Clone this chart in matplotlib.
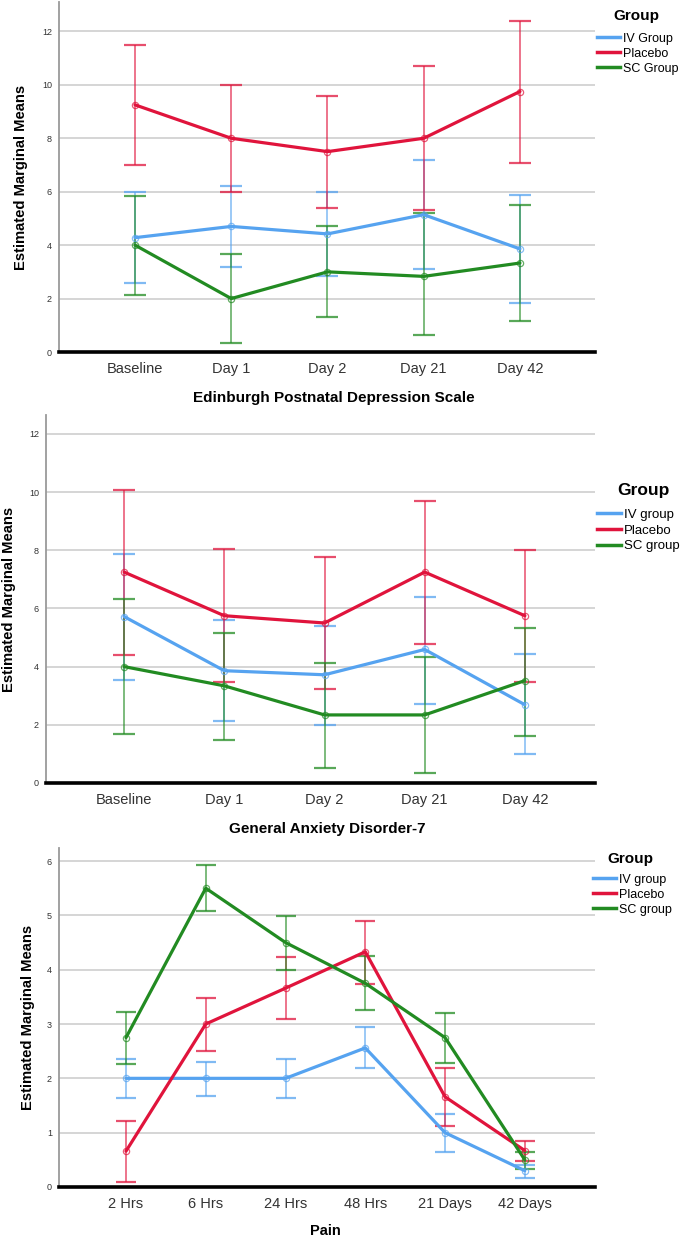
import matplotlib
matplotlib.use('Agg')
import matplotlib.pyplot as plt
from matplotlib.lines import Line2D

plt.rcParams['font.family'] = ['Liberation Sans', 'DejaVu Sans']

W, H = 690, 1240

# time points
days = ['Baseline', 'Day 1', 'Day 2', 'Day 21', 'Day 42']
hours = ['2 Hrs', '6 Hrs', '24 Hrs', '48 Hrs', '21 Days', '42 Days']

# panel 1 (top, untitled scale)
p1_iv = [4.28, 4.70, 4.42, 5.14, 3.86]
p1_iv_lo = [2.58, 3.20, 2.85, 3.10, 1.85]
p1_iv_hi = [5.97, 6.20, 6.00, 7.17, 5.86]
p1_pl = [9.25, 8.00, 7.50, 8.00, 9.75]
p1_pl_lo = [7.00, 6.00, 5.40, 5.30, 7.08]
p1_pl_hi = [11.50, 10.00, 9.60, 10.70, 12.40]
p1_sc = [4.00, 2.00, 3.00, 2.83, 3.33]
p1_sc_lo = [2.15, 0.35, 1.30, 0.62, 1.16]
p1_sc_hi = [5.85, 3.65, 4.70, 5.20, 5.50]

# panel 2 (Edinburgh Postnatal Depression Scale)
p2_iv = [5.72, 3.86, 3.72, 4.59, 2.69]
p2_iv_lo = [3.55, 2.14, 2.00, 2.72, 1.00]
p2_iv_hi = [7.86, 5.59, 5.41, 6.41, 4.45]
p2_pl = [7.25, 5.75, 5.50, 7.25, 5.75]
p2_pl_lo = [4.41, 3.48, 3.24, 4.79, 3.48]
p2_pl_hi = [10.07, 8.03, 7.76, 9.69, 8.00]
p2_sc = [4.00, 3.34, 2.34, 2.34, 3.52]
p2_sc_lo = [1.69, 1.48, 0.52, 0.34, 1.62]
p2_sc_hi = [6.31, 5.17, 4.14, 4.34, 5.34]

# panel 3 (General Anxiety Disorder-7)
p3_iv = [2.00, 2.00, 2.00, 2.56, 1.00, 0.30]
p3_iv_lo = [1.63, 1.68, 1.63, 2.19, 0.64, 0.16]
p3_iv_hi = [2.36, 2.31, 2.36, 2.94, 1.34, 0.40]
p3_pl = [0.66, 3.00, 3.66, 4.33, 1.66, 0.67]
p3_pl_lo = [0.10, 2.50, 3.09, 3.74, 1.12, 0.47]
p3_pl_hi = [1.21, 3.48, 4.23, 4.90, 2.19, 0.84]
p3_sc = [2.75, 5.50, 4.50, 3.75, 2.75, 0.50]
p3_sc_lo = [2.27, 5.08, 4.00, 3.25, 2.28, 0.33]
p3_sc_hi = [3.22, 5.93, 4.99, 4.25, 3.20, 0.65]

BLUE = '#56a3f0'
RED = '#e0143c'
GREEN = '#228b22'


def make_ax(fig, left, right, top, bottom):
    return fig.add_axes([left / W, 1 - bottom / H, (right - left) / W, (bottom - top) / H])


def draw_series(ax, labels, val, lo, hi, color, cap):
    x = list(range(len(labels)))
    err = [[v - l for v, l in zip(val, lo)], [h - v for v, h in zip(val, hi)]]
    ax.errorbar(x, val, yerr=err, fmt='none', ecolor=color, elinewidth=1.1,
                capsize=cap, capthick=1.6, alpha=0.75, zorder=3)
    ax.plot(x, val, color=color, lw=2.3, zorder=4, solid_capstyle='round')
    ax.plot(x, val, 'o', ms=4.5, mfc='none', mec=color, mew=0.9, alpha=0.7, zorder=5)


def style(ax, labels, xlim, ylim, yticks, ylab_x):
    ax.set_xlim(*xlim)
    ax.set_ylim(*ylim)
    ax.set_xticks(range(len(labels)))
    ax.set_xticklabels(labels, fontsize=10.5, color='#333333')
    ax.set_yticks(yticks)
    ax.set_yticklabels([str(t) for t in yticks], fontsize=6.5, color='#333333')
    ax.tick_params(axis='both', length=0)
    ax.tick_params(axis='x', pad=7)
    ax.tick_params(axis='y', pad=5)
    ax.grid(axis='y', color='#d2d2d2', lw=1.3, zorder=0)
    ax.set_axisbelow(True)
    for s in ['top', 'right']:
        ax.spines[s].set_visible(False)
    ax.spines['left'].set_color('#9a9a9a')
    ax.spines['left'].set_linewidth(1.3)
    ax.spines['bottom'].set_color('black')
    ax.spines['bottom'].set_linewidth(2.6)
    ax.set_ylabel('Estimated Marginal Means', fontsize=10.6, fontweight='bold')
    ax.yaxis.set_label_coords(ylab_x, 0.5)


def add_legend(fig, names, x, y_first, title_xy, title_size, font=9, spacing=0.24):
    fig.text(title_xy[0] / W, 1 - title_xy[1] / H, 'Group', ha='center', va='center',
             fontsize=title_size, fontweight='bold')
    handles = [Line2D([0], [0], color=c, lw=2.5) for c in (BLUE, RED, GREEN)]
    y_top = y_first - font * 1.389 / 2
    fig.legend(handles, names, loc='upper left', bbox_to_anchor=(x / W, 1 - y_top / H),
               bbox_transform=fig.transFigure, frameon=False, fontsize=font,
               handlelength=1.8, handletextpad=0.25, labelspacing=spacing, borderpad=0,
               borderaxespad=0)


fig = plt.figure(figsize=(W / 100, H / 100), dpi=100)

# ---- panel 1
ax1 = make_ax(fig, 59, 595, 2, 352)
draw_series(ax1, days, p1_iv, p1_iv_lo, p1_iv_hi, BLUE, 8)
draw_series(ax1, days, p1_pl, p1_pl_lo, p1_pl_hi, RED, 8)
draw_series(ax1, days, p1_sc, p1_sc_lo, p1_sc_hi, GREEN, 8)
style(ax1, days, (-0.79, 4.78), (0, 13.1), [0, 2, 4, 6, 8, 10, 12], (28 - 59) / 536)
add_legend(fig, ['IV Group', 'Placebo', 'SC Group'], 597, 39, (636, 16), 11)

# ---- panel 2
fig.text(334 / W, 1 - 398 / H, 'Edinburgh Postnatal Depression Scale',
         ha='center', va='center', fontsize=11, fontweight='bold')
ax2 = make_ax(fig, 46, 595, 415, 783)
draw_series(ax2, days, p2_iv, p2_iv_lo, p2_iv_hi, BLUE, 8)
draw_series(ax2, days, p2_pl, p2_pl_lo, p2_pl_hi, RED, 8)
draw_series(ax2, days, p2_sc, p2_sc_lo, p2_sc_hi, GREEN, 8)
style(ax2, days, (-0.78, 4.70), (0, 12.65), [0, 2, 4, 6, 8, 10, 12], (16 - 46) / 549)
add_legend(fig, ['IV group', 'Placebo', 'SC group'], 597, 515, (643, 490), 12.5,
           font=9.5, spacing=0.28)

# ---- panel 3
fig.text(327 / W, 1 - 829 / H, 'General Anxiety Disorder-7',
         ha='center', va='center', fontsize=11, fontweight='bold')
ax3 = make_ax(fig, 59, 595, 848, 1187)
draw_series(ax3, hours, p3_iv, p3_iv_lo, p3_iv_hi, BLUE, 7)
draw_series(ax3, hours, p3_pl, p3_pl_lo, p3_pl_hi, RED, 7)
draw_series(ax3, hours, p3_sc, p3_sc_lo, p3_sc_hi, GREEN, 7)
style(ax3, hours, (-0.84, 5.88), (0, 6.24), [0, 1, 2, 3, 4, 5, 6], (35 - 59) / 536)
ax3.set_xlabel('Pain', fontsize=10.5, fontweight='bold')
ax3.xaxis.set_label_coords((325 - 59) / 536, -(1224 - 1187) / 339)
add_legend(fig, ['IV group', 'Placebo', 'SC group'], 593, 880, (630, 859), 11)

fig.savefig('out.png', dpi=100)
